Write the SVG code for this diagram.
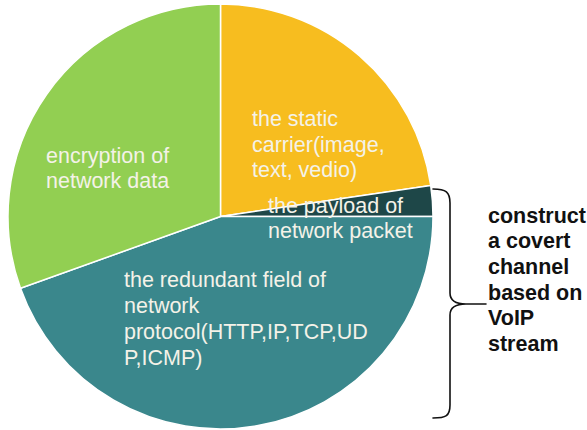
<svg xmlns="http://www.w3.org/2000/svg" width="587" height="430" viewBox="0 0 587 430">
  <style>
    .slice { stroke: #ffffff; stroke-width: 1.5; stroke-linejoin: round; }
    .lbl { font-family: "Liberation Sans", Arial, sans-serif; font-size: 21.5px; fill: #f4f2e8; }
    .side { font-family: "Liberation Sans", Arial, sans-serif; font-size: 21.5px; font-weight: bold; fill: #111111; }
    .brace { fill: none; stroke: #111111; stroke-width: 1.6; stroke-linecap: round; stroke-linejoin: round; }
  </style>
  <rect width="587" height="430" fill="#ffffff"/>

  <!-- pie slices, centre (220.5, 216.5), r 212.5 -->
  <g id="slice-static-carrier">
    <path class="slice" fill="#f7bd1f" d="M220.5,216.5 L220.5,4 A212.5,212.5 0 0 1 430.7,185.4 Z"/>
    <text class="lbl" x="252" y="126">the static</text>
    <text class="lbl" x="252" y="152">carrier(image,</text>
    <text class="lbl" x="252" y="177">text, vedio)</text>
  </g>

  <g id="slice-payload">
    <path class="slice" fill="#1e4748" d="M220.5,216.5 L430.7,185.4 A212.5,212.5 0 0 1 433,216.5 Z"/>
  </g>

  <g id="slice-redundant-field">
    <path class="slice" fill="#3a878c" d="M220.5,216.5 L433,216.5 A212.5,212.5 0 0 1 20.5,288.3 Z"/>
    <text class="lbl" x="124" y="287">the redundant field of</text>
    <text class="lbl" x="124" y="313">network</text>
    <text class="lbl" x="124" y="339">protocol(HTTP,IP,TCP,UD</text>
    <text class="lbl" x="124" y="365">P,ICMP)</text>
  </g>

  <g id="slice-encryption">
    <path class="slice" fill="#92cf52" d="M220.5,216.5 L20.5,288.3 A212.5,212.5 0 0 1 220.5,4 Z"/>
    <text class="lbl" x="46" y="163">encryption of</text>
    <text class="lbl" x="46" y="188">network data</text>
  </g>

  <!-- payload label sits across the slice border -->
  <g id="payload-label">
    <text class="lbl" x="268" y="213">the payload of</text>
    <text class="lbl" x="268" y="238">network packet</text>
  </g>

  <!-- brace grouping the two right-hand slices -->
  <g id="connectors">
    <path class="brace" d="M433,189 C446,189 450,192 450,203 L450,293 C450,300 455,304 466,304 C455,304 450,308 450,315 L450,405 C450,416 446,418 433,418 M460,304 L486,304"/>
  </g>

  <g id="covert-channel-note">
    <text class="side" x="488" y="223">construct</text>
    <text class="side" x="488" y="248">a covert</text>
    <text class="side" x="488" y="274">channel</text>
    <text class="side" x="488" y="300">based on</text>
    <text class="side" x="488" y="325">VoIP</text>
    <text class="side" x="488" y="351">stream</text>
  </g>
</svg>
